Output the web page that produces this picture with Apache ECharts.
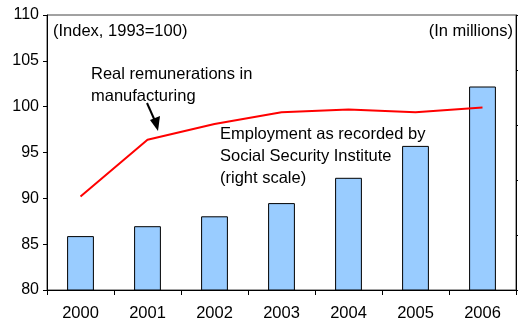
<!DOCTYPE html>
<html>
<head>
<meta charset="utf-8">
<script src="https://cdn.jsdelivr.net/npm/echarts@6/dist/echarts.min.js"></script>
<style>
  html, body { margin: 0; padding: 0; background: #fff; }
  #chart { width: 518px; height: 324px; }
</style>
</head>
<body>
<div id="chart"></div>
<script>
// Years on the category axis
const years = ['2000', '2001', '2002', '2003', '2004', '2005', '2006'];
// Real remunerations in manufacturing (index, 1993 = 100), left scale
const remunerations = [90.2, 96.4, 98.1, 99.4, 99.7, 99.4, 99.9];
// Employment recorded by the Social Security Institute (millions), right scale
const employment = [4.49, 4.58, 4.67, 4.79, 5.02, 5.31, 5.85];
// Left axis range and step
const leftMin = 80, leftMax = 110, leftStep = 5;
// Right axis range and step (tick marks only, no labels)
const rightMin = 4, rightMax = 6.5, rightStep = 0.5;

const FONT = 'Liberation Sans, Arial, sans-serif';
const chart = echarts.init(document.getElementById('chart'), null, { renderer: 'canvas' });

chart.setOption({
  animation: false,
  backgroundColor: '#ffffff',
  grid: {
    left: 47, right: 2, top: 15, bottom: 34,
    show: true, borderColor: '#444', borderWidth: 1, backgroundColor: 'transparent'
  },
  xAxis: {
    type: 'category',
    data: years,
    boundaryGap: true,
    axisLine: { lineStyle: { color: '#000', width: 1 } },
    axisTick: { show: true, alignWithLabel: false, length: 5, lineStyle: { color: '#000' } },
    axisLabel: { color: '#000', fontFamily: FONT, fontSize: 16.5, margin: 15 }
  },
  yAxis: [
    {
      type: 'value', position: 'left',
      min: leftMin, max: leftMax, interval: leftStep,
      axisLine: { show: true, lineStyle: { color: '#000', width: 1 } },
      axisTick: { show: true, length: 4, lineStyle: { color: '#000' } },
      axisLabel: { color: '#000', fontFamily: FONT, fontSize: 16, margin: 8 },
      splitLine: { show: false }
    },
    {
      type: 'value', position: 'right',
      min: rightMin, max: rightMax, interval: rightStep,
      axisLine: { show: true, lineStyle: { color: '#000', width: 1 } },
      axisTick: { show: true, length: 4, lineStyle: { color: '#000' } },
      axisLabel: { show: false },
      splitLine: { show: false }
    }
  ],
  series: [
    {
      name: 'Employment', type: 'bar', yAxisIndex: 1,
      data: employment,
      barWidth: '40%',
      itemStyle: { color: '#99CCFF', borderColor: '#000', borderWidth: 1 },
      z: 1
    },
    {
      name: 'Real remunerations', type: 'line', yAxisIndex: 0,
      data: remunerations,
      showSymbol: false, symbol: 'none',
      lineStyle: { color: '#FF0000', width: 2 },
      z: 3
    }
  ],
  graphic: [
    { type: 'text', left: 53, top: 23, style: { text: '(Index, 1993=100)', font: '16.5px ' + FONT, fill: '#000' } },
    { type: 'text', right: 5, top: 23, style: { text: '(In millions)', font: '16.5px ' + FONT, fill: '#000', textAlign: 'right' } },
    { type: 'text', left: 91, top: 63, style: { text: 'Real remunerations in\nmanufacturing', font: '16.5px ' + FONT, fill: '#000', lineHeight: 22 } },
    { type: 'text', left: 220, top: 123, style: { text: 'Employment as recorded by\nSocial Security Institute\n(right scale)', font: '16.5px ' + FONT, fill: '#000', lineHeight: 22 } },
    { type: 'line', shape: { x1: 147, y1: 103, x2: 155, y2: 121 }, style: { stroke: '#000', lineWidth: 2 } },
    { type: 'polygon', shape: { points: [[158, 131], [150, 120], [160, 116]] }, style: { fill: '#000' } }
  ]
});
</script>
</body>
</html>
